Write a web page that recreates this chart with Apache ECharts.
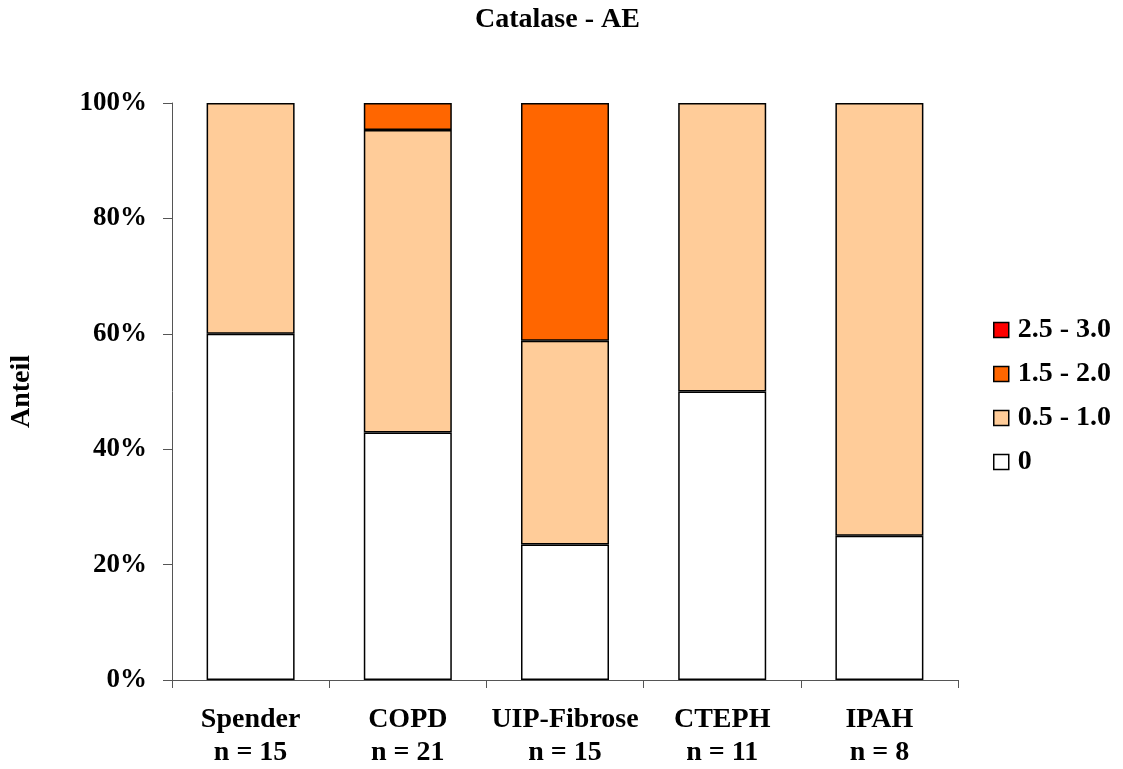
<!DOCTYPE html>
<html>
<head>
<meta charset="utf-8">
<script src="https://cdn.jsdelivr.net/npm/echarts@6/dist/echarts.min.js"></script>
<style>
  html, body { margin: 0; padding: 0; background: #fff; }
  #chart { width: 1123px; height: 769px; }
</style>
</head>
<body>
<div id="chart"></div>
<script>
// Groups and sample sizes
const groups = ['Spender', 'COPD', 'UIP-Fibrose', 'CTEPH', 'IPAH'];
const sampleSizes = [15, 21, 15, 11, 8];

// Share of each score class per group (percent)
const score0     = [60.0, 42.9, 23.5, 50.0, 25.0];
const score05_10 = [40.0, 52.4, 35.3, 50.0, 75.0];
const score15_20 = [0,    4.7,  41.2, 0,    0];
const score25_30 = [0,    0,    0,    0,    0];

const seriesNames = ['0', '0.5 - 1.0', '1.5 - 2.0', '2.5 - 3.0'];
const seriesColors = ['#FFFFFF', '#FFCC99', '#FF6600', '#FF0000'];
const seriesValues = [score0, score05_10, score15_20, score25_30];

const yTicks = [0, 20, 40, 60, 80, 100];

const FONT = "'Liberation Serif', 'Times New Roman', serif";

const chart = echarts.init(document.getElementById('chart'));

chart.setOption({
  animation: false,
  backgroundColor: '#fff',
  title: {
    text: 'Catalase - AE',
    left: 470,
    top: 1,
    textStyle: { fontFamily: FONT, fontWeight: 'bold', fontSize: 28, color: '#000' }
  },
  legend: {
    orient: 'vertical',
    left: 988,
    top: 311,
    itemWidth: 15,
    itemHeight: 15,
    itemGap: 16,
    icon: 'rect',
    data: seriesNames.slice().reverse(),
    textStyle: {
      fontFamily: FONT, fontWeight: 'bold', fontSize: 28, color: '#000',
      lineHeight: 28, padding: [0, 0, 0, 4]
    },
    itemStyle: { borderColor: '#000', borderWidth: 1.5 }
  },
  grid: { left: 172, right: 165, top: 103, bottom: 89, outerBoundsMode: 'none' },
  xAxis: {
    type: 'category',
    data: groups.map((g, i) => g + '\nn = ' + sampleSizes[i]),
    axisLine: { lineStyle: { color: '#555', width: 1 } },
    axisTick: { show: true, length: 8, lineStyle: { color: '#555' } },
    axisLabel: {
      interval: 0,
      margin: 23,
      fontFamily: FONT, fontWeight: 'bold', fontSize: 28, color: '#000',
      lineHeight: 33
    }
  },
  yAxis: {
    type: 'value',
    min: yTicks[0],
    max: yTicks[yTicks.length - 1],
    interval: 20,
    name: 'Anteil',
    nameLocation: 'middle',
    nameGap: 136,
    nameRotate: 90,
    nameTextStyle: { fontFamily: FONT, fontWeight: 'bold', fontSize: 28, color: '#000' },
    axisLine: { show: true, lineStyle: { color: '#555', width: 1 } },
    axisTick: { show: true, length: 9, inside: false, lineStyle: { color: '#555' } },
    splitLine: { show: false },
    axisLabel: {
      margin: 25,
      formatter: v => v + '%',
      fontFamily: FONT, fontWeight: 'bold', fontSize: 27, color: '#000'
    }
  },
  series: seriesNames.map((name, k) => ({
    name: name,
    type: 'bar',
    stack: 'total',
    barWidth: 88,
    itemStyle: { color: seriesColors[k], borderColor: '#000', borderWidth: 1.5 },
    data: seriesValues[k].map(v => (v === 0 ? null : v))
  }))
});
</script>
</body>
</html>
